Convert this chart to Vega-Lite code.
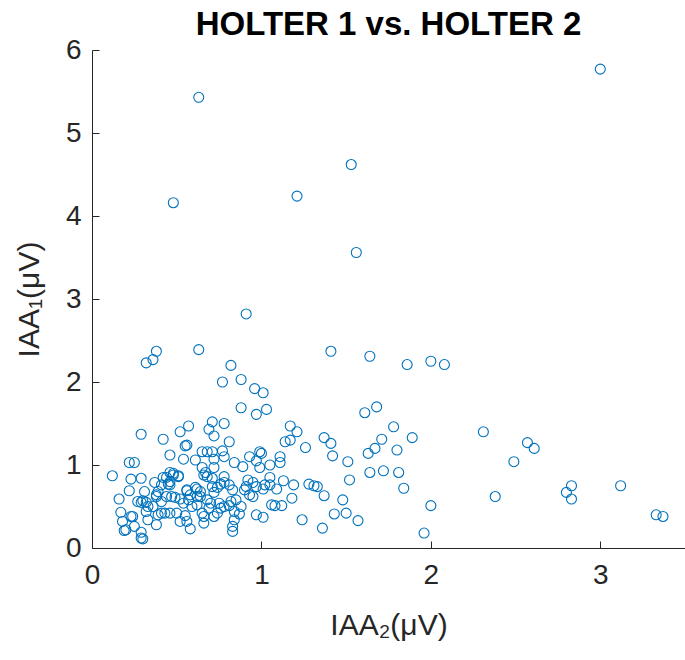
{
  "$schema": "https://vega.github.io/schema/vega-lite/v6.json",
  "width": 593,
  "height": 498,
  "autosize": {"type": "none"},
  "padding": {"left": 92, "top": 50, "right": 0, "bottom": 112},
  "background": "white",
  "title": {
    "text": "HOLTER 1 vs. HOLTER 2",
    "font": "Liberation Sans",
    "fontSize": 33,
    "fontWeight": "bold",
    "color": "#000000",
    "anchor": "middle",
    "offset": 9,
    "dy": 15
  },
  "config": {
    "view": {"stroke": null},
    "axis": {
      "grid": false,
      "domainColor": "#262626",
      "domainWidth": 1,
      "tickColor": "#262626",
      "tickWidth": 1,
      "tickSize": -7,
      "labelFlush": false,
      "labelOverlap": false,
      "labelFont": "Liberation Sans",
      "labelFontSize": 28,
      "labelColor": "#262626",
      "titleFont": "Liberation Sans",
      "titleFontSize": 30,
      "titleFontWeight": "normal",
      "titleColor": "#262626"
    }
  },
  "data": {
    "values": [
      {"iaa2": 3.00, "iaa1": 5.77}, {"iaa2": 0.63, "iaa1": 5.43}, {"iaa2": 1.53, "iaa1": 4.62}, {"iaa2": 0.48, "iaa1": 4.16},
      {"iaa2": 1.21, "iaa1": 4.24}, {"iaa2": 1.56, "iaa1": 3.56}, {"iaa2": 0.91, "iaa1": 2.82}, {"iaa2": 0.63, "iaa1": 2.39},
      {"iaa2": 0.38, "iaa1": 2.37}, {"iaa2": 1.41, "iaa1": 2.37},
      {"iaa2": 1.64, "iaa1": 2.31}, {"iaa2": 1.86, "iaa1": 2.21}, {"iaa2": 2.00, "iaa1": 2.25}, {"iaa2": 2.08, "iaa1": 2.21},
      {"iaa2": 1.61, "iaa1": 1.63}, {"iaa2": 1.68, "iaa1": 1.70}, {"iaa2": 1.78, "iaa1": 1.46}, {"iaa2": 2.31, "iaa1": 1.40},
      {"iaa2": 1.37, "iaa1": 1.33}, {"iaa2": 1.41, "iaa1": 1.26}, {"iaa2": 1.71, "iaa1": 1.31}, {"iaa2": 1.89, "iaa1": 1.33},
      {"iaa2": 1.26, "iaa1": 1.21}, {"iaa2": 1.42, "iaa1": 1.11}, {"iaa2": 1.67, "iaa1": 1.20}, {"iaa2": 1.63, "iaa1": 1.14},
      {"iaa2": 1.80, "iaa1": 1.18}, {"iaa2": 2.57, "iaa1": 1.27}, {"iaa2": 2.61, "iaa1": 1.20}, {"iaa2": 2.49, "iaa1": 1.04},
      {"iaa2": 1.51, "iaa1": 1.04}, {"iaa2": 1.52, "iaa1": 0.82}, {"iaa2": 1.64, "iaa1": 0.91}, {"iaa2": 1.72, "iaa1": 0.93},
      {"iaa2": 1.81, "iaa1": 0.91}, {"iaa2": 1.84, "iaa1": 0.72}, {"iaa2": 1.28, "iaa1": 0.77}, {"iaa2": 1.31, "iaa1": 0.75},
      {"iaa2": 1.33, "iaa1": 0.74}, {"iaa2": 1.37, "iaa1": 0.63}, {"iaa2": 1.48, "iaa1": 0.58}, {"iaa2": 2.38, "iaa1": 0.62},
      {"iaa2": 2.00, "iaa1": 0.51}, {"iaa2": 1.24, "iaa1": 0.34}, {"iaa2": 1.43, "iaa1": 0.41}, {"iaa2": 1.50, "iaa1": 0.42},
      {"iaa2": 1.57, "iaa1": 0.33}, {"iaa2": 1.36, "iaa1": 0.24}, {"iaa2": 1.96, "iaa1": 0.18},
      {"iaa2": 2.80, "iaa1": 0.67}, {"iaa2": 2.83, "iaa1": 0.75}, {"iaa2": 2.83, "iaa1": 0.59}, {"iaa2": 3.12, "iaa1": 0.75},
      {"iaa2": 3.33, "iaa1": 0.40}, {"iaa2": 3.37, "iaa1": 0.38},
      {"iaa2": 0.32, "iaa1": 2.23}, {"iaa2": 0.36, "iaa1": 2.27}, {"iaa2": 0.82, "iaa1": 2.20}, {"iaa2": 0.77, "iaa1": 2.00},
      {"iaa2": 0.88, "iaa1": 2.03}, {"iaa2": 0.96, "iaa1": 1.92}, {"iaa2": 1.01, "iaa1": 1.87}, {"iaa2": 0.88, "iaa1": 1.69},
      {"iaa2": 0.97, "iaa1": 1.61}, {"iaa2": 1.03, "iaa1": 1.67}, {"iaa2": 1.17, "iaa1": 1.47}, {"iaa2": 1.21, "iaa1": 1.40},
      {"iaa2": 1.14, "iaa1": 1.28}, {"iaa2": 1.17, "iaa1": 1.30},
      {"iaa2": 0.71, "iaa1": 1.52}, {"iaa2": 0.78, "iaa1": 1.50}, {"iaa2": 0.69, "iaa1": 1.43}, {"iaa2": 0.72, "iaa1": 1.35},
      {"iaa2": 0.81, "iaa1": 1.28}, {"iaa2": 0.52, "iaa1": 1.40}, {"iaa2": 0.57, "iaa1": 1.47}, {"iaa2": 0.29, "iaa1": 1.37},
      {"iaa2": 0.42, "iaa1": 1.31}, {"iaa2": 0.46, "iaa1": 1.12}, {"iaa2": 0.55, "iaa1": 1.23}, {"iaa2": 0.56, "iaa1": 1.24},
      {"iaa2": 0.54, "iaa1": 1.07}, {"iaa2": 0.61, "iaa1": 1.06}, {"iaa2": 0.65, "iaa1": 1.16}, {"iaa2": 0.68, "iaa1": 1.16},
      {"iaa2": 0.71, "iaa1": 1.16}, {"iaa2": 0.72, "iaa1": 1.07}, {"iaa2": 0.77, "iaa1": 1.17}, {"iaa2": 0.78, "iaa1": 1.10},
      {"iaa2": 0.84, "iaa1": 1.03}, {"iaa2": 0.89, "iaa1": 0.98}, {"iaa2": 0.93, "iaa1": 1.10}, {"iaa2": 0.99, "iaa1": 1.16},
      {"iaa2": 1.00, "iaa1": 1.14}, {"iaa2": 0.97, "iaa1": 1.05}, {"iaa2": 0.99, "iaa1": 0.97}, {"iaa2": 1.05, "iaa1": 1.00},
      {"iaa2": 1.11, "iaa1": 1.10}, {"iaa2": 1.11, "iaa1": 1.03}, {"iaa2": 1.05, "iaa1": 0.85}, {"iaa2": 1.05, "iaa1": 0.76},
      {"iaa2": 1.13, "iaa1": 0.81}, {"iaa2": 1.19, "iaa1": 0.76}, {"iaa2": 1.09, "iaa1": 0.71}, {"iaa2": 1.18, "iaa1": 0.60},
      {"iaa2": 1.06, "iaa1": 0.52}, {"iaa2": 1.08, "iaa1": 0.51}, {"iaa2": 1.12, "iaa1": 0.51},
      {"iaa2": 0.12, "iaa1": 0.87}, {"iaa2": 0.22, "iaa1": 1.03}, {"iaa2": 0.25, "iaa1": 1.03}, {"iaa2": 0.29, "iaa1": 0.84},
      {"iaa2": 0.23, "iaa1": 0.83}, {"iaa2": 0.22, "iaa1": 0.69}, {"iaa2": 0.16, "iaa1": 0.59}, {"iaa2": 0.17, "iaa1": 0.43},
      {"iaa2": 0.18, "iaa1": 0.32}, {"iaa2": 0.19, "iaa1": 0.21}, {"iaa2": 0.20, "iaa1": 0.22}, {"iaa2": 0.23, "iaa1": 0.38},
      {"iaa2": 0.24, "iaa1": 0.38}, {"iaa2": 0.25, "iaa1": 0.26}, {"iaa2": 0.29, "iaa1": 0.19}, {"iaa2": 0.29, "iaa1": 0.12},
      {"iaa2": 0.30, "iaa1": 0.11}, {"iaa2": 0.27, "iaa1": 0.56}, {"iaa2": 0.30, "iaa1": 0.57}, {"iaa2": 0.29, "iaa1": 0.55},
      {"iaa2": 0.32, "iaa1": 0.44}, {"iaa2": 0.33, "iaa1": 0.34}, {"iaa2": 0.38, "iaa1": 0.28}, {"iaa2": 0.38, "iaa1": 0.64},
      {"iaa2": 0.37, "iaa1": 0.79}, {"iaa2": 0.31, "iaa1": 0.68}, {"iaa2": 0.41, "iaa1": 0.76}, {"iaa2": 0.45, "iaa1": 0.77},
      {"iaa2": 0.42, "iaa1": 0.85}, {"iaa2": 0.48, "iaa1": 0.90}, {"iaa2": 0.51, "iaa1": 0.87}, {"iaa2": 0.46, "iaa1": 0.76},
      {"iaa2": 0.44, "iaa1": 0.62}, {"iaa2": 0.47, "iaa1": 0.62}, {"iaa2": 0.49, "iaa1": 0.61}, {"iaa2": 0.52, "iaa1": 0.59},
      {"iaa2": 0.41, "iaa1": 0.56}, {"iaa2": 0.41, "iaa1": 0.42}, {"iaa2": 0.46, "iaa1": 0.42}, {"iaa2": 0.43, "iaa1": 0.42},
      {"iaa2": 0.50, "iaa1": 0.42}, {"iaa2": 0.52, "iaa1": 0.32}, {"iaa2": 0.55, "iaa1": 0.39}, {"iaa2": 0.56, "iaa1": 0.32},
      {"iaa2": 0.58, "iaa1": 0.23}, {"iaa2": 0.54, "iaa1": 0.54}, {"iaa2": 0.57, "iaa1": 0.58}, {"iaa2": 0.56, "iaa1": 0.69},
      {"iaa2": 0.62, "iaa1": 0.71}, {"iaa2": 0.64, "iaa1": 0.68}, {"iaa2": 0.62, "iaa1": 0.62}, {"iaa2": 0.64, "iaa1": 0.62},
      {"iaa2": 0.59, "iaa1": 0.50}, {"iaa2": 0.62, "iaa1": 0.52}, {"iaa2": 0.65, "iaa1": 0.42}, {"iaa2": 0.66, "iaa1": 0.38},
      {"iaa2": 0.66, "iaa1": 0.30}, {"iaa2": 0.68, "iaa1": 0.58}, {"iaa2": 0.70, "iaa1": 0.54}, {"iaa2": 0.69, "iaa1": 0.48},
      {"iaa2": 0.72, "iaa1": 0.38}, {"iaa2": 0.74, "iaa1": 0.42}, {"iaa2": 0.75, "iaa1": 0.54}, {"iaa2": 0.78, "iaa1": 0.50},
      {"iaa2": 0.76, "iaa1": 0.48}, {"iaa2": 0.81, "iaa1": 0.51}, {"iaa2": 0.82, "iaa1": 0.56}, {"iaa2": 0.84, "iaa1": 0.44},
      {"iaa2": 0.87, "iaa1": 0.41}, {"iaa2": 0.88, "iaa1": 0.50}, {"iaa2": 0.85, "iaa1": 0.58}, {"iaa2": 0.83, "iaa1": 0.26},
      {"iaa2": 0.83, "iaa1": 0.20}, {"iaa2": 0.84, "iaa1": 0.34}, {"iaa2": 0.83, "iaa1": 0.70}, {"iaa2": 0.81, "iaa1": 0.76},
      {"iaa2": 0.76, "iaa1": 0.77}, {"iaa2": 0.71, "iaa1": 0.74}, {"iaa2": 0.74, "iaa1": 0.73}, {"iaa2": 0.72, "iaa1": 0.67},
      {"iaa2": 0.67, "iaa1": 0.91}, {"iaa2": 0.66, "iaa1": 0.88}, {"iaa2": 0.68, "iaa1": 0.86}, {"iaa2": 0.71, "iaa1": 0.84},
      {"iaa2": 0.65, "iaa1": 0.97}, {"iaa2": 0.72, "iaa1": 0.97}, {"iaa2": 0.78, "iaa1": 0.86}, {"iaa2": 0.78, "iaa1": 0.79},
      {"iaa2": 0.46, "iaa1": 0.91}, {"iaa2": 0.48, "iaa1": 0.88}, {"iaa2": 0.51, "iaa1": 0.86}, {"iaa2": 0.44, "iaa1": 0.85},
      {"iaa2": 0.46, "iaa1": 0.80}, {"iaa2": 0.39, "iaa1": 0.68}, {"iaa2": 0.38, "iaa1": 0.62}, {"iaa2": 0.36, "iaa1": 0.50},
      {"iaa2": 0.39, "iaa1": 0.40}, {"iaa2": 0.33, "iaa1": 0.50}, {"iaa2": 0.32, "iaa1": 0.55}, {"iaa2": 0.56, "iaa1": 0.70},
      {"iaa2": 0.58, "iaa1": 0.64}, {"iaa2": 0.61, "iaa1": 0.73}, {"iaa2": 0.92, "iaa1": 0.82}, {"iaa2": 0.95, "iaa1": 0.79},
      {"iaa2": 0.97, "iaa1": 0.74}, {"iaa2": 0.91, "iaa1": 0.74}, {"iaa2": 0.90, "iaa1": 0.70}, {"iaa2": 0.93, "iaa1": 0.64},
      {"iaa2": 0.95, "iaa1": 0.62}, {"iaa2": 0.97, "iaa1": 0.40}, {"iaa2": 1.01, "iaa1": 0.37}, {"iaa2": 1.01, "iaa1": 0.71},
      {"iaa2": 1.02, "iaa1": 0.76}
    ]
  },
  "mark": {
    "type": "point",
    "shape": "circle",
    "filled": false,
    "size": 100,
    "strokeWidth": 1.1,
    "color": "#0072BD",
    "opacity": 1,
    "clip": false
  },
  "encoding": {
    "x": {
      "field": "iaa2",
      "type": "quantitative",
      "scale": {"domain": [0, 3.5], "nice": false, "zero": true},
      "axis": {
        "title": "IAA₂(μV)",
        "values": [0, 1, 2, 3],
        "labelPadding": 20,
        "titleY": 62
      }
    },
    "y": {
      "field": "iaa1",
      "type": "quantitative",
      "scale": {"domain": [0, 6], "nice": false},
      "axis": {
        "title": "IAA₁(μV)",
        "values": [0, 1, 2, 3, 4, 5, 6],
        "labelPadding": 18,
        "titleX": -48
      }
    }
  }
}
